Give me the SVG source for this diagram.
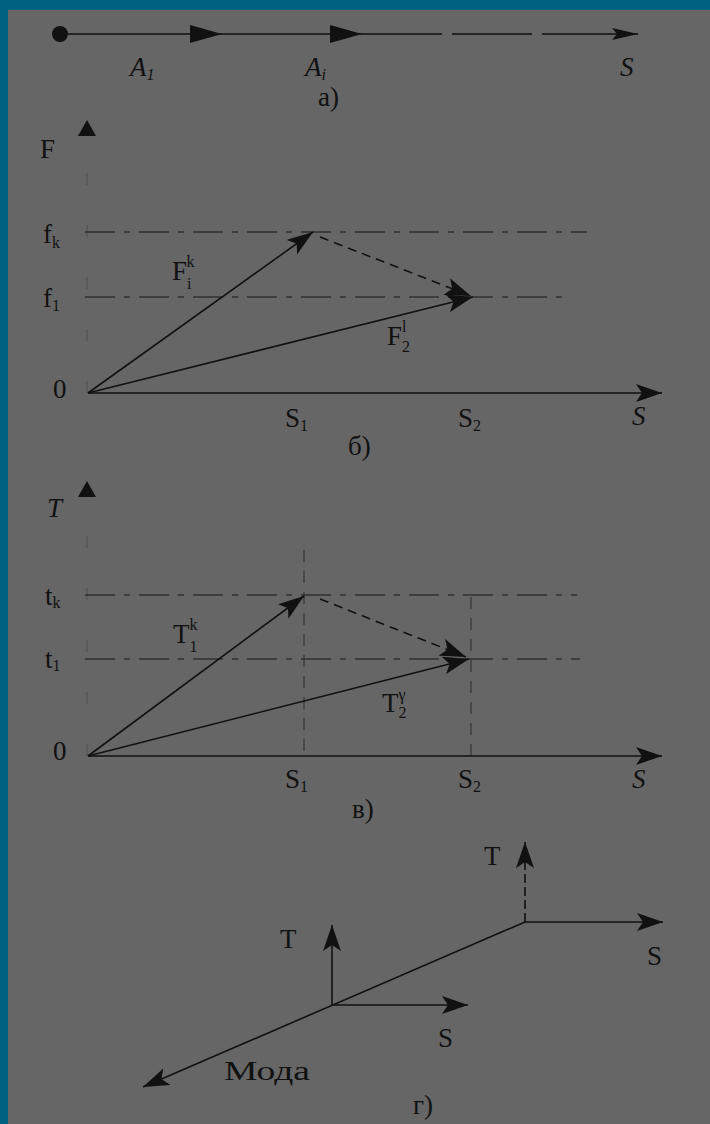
<svg xmlns="http://www.w3.org/2000/svg" width="710" height="1124" viewBox="0 0 710 1124">
<style>
.ln{stroke:#111;stroke-width:1.6;fill:none}
.dsh{stroke:#222;stroke-width:1.5;fill:none;stroke-dasharray:30 9 6 9;opacity:0.8}
.vd{stroke:#2a2a2a;stroke-width:1.3;fill:none;stroke-dasharray:12 9;opacity:0.75}
.dv{stroke:#111;stroke-width:1.6;fill:none;stroke-dasharray:9 6}
.faint{stroke:#333;stroke-width:1.2;fill:none;stroke-dasharray:12 40;opacity:0.35}
.ah{fill:#111}
text{font-family:"Liberation Serif","Times New Roman",serif;fill:#111;font-size:27px}
.it{font-style:italic}
.sub{font-size:16px}
</style>
<defs>
<marker id="arr" viewBox="0 0 26 18" refX="26" refY="9" markerWidth="26" markerHeight="18" markerUnits="userSpaceOnUse" orient="auto">
<path d="M0,0 L26,9 L0,18 L6,9 Z" fill="#111"/>
</marker>
<marker id="arrS" viewBox="0 0 26 12" refX="26" refY="6" markerWidth="26" markerHeight="12" markerUnits="userSpaceOnUse" orient="auto">
<path d="M0,0 L26,6 L0,12 L5,6 Z" fill="#111"/>
</marker>
</defs>
<rect x="0" y="0" width="710" height="1124" fill="#006080"/>
<rect x="8" y="10" width="702" height="1114" fill="#666666"/>

<g id="part-a">
<circle cx="60" cy="34" r="8" fill="#111"/>
<line class="ln" x1="60" y1="34" x2="362" y2="34"/>
<line class="ln" x1="362" y1="34" x2="638" y2="34" stroke-dasharray="80 10" marker-end="url(#arrS)"/>
<path class="ah" d="M190,25 L222,34 L190,43 Z"/>
<path class="ah" d="M330,25 L362,34 L330,43 Z"/>
<text class="it" x="130" y="76" font-size="24">A<tspan class="sub" dy="4">1</tspan></text>
<text class="it" x="305" y="76" font-size="24">A<tspan class="sub" dy="4">i</tspan></text>
<text class="it" x="620" y="76" font-size="24">S</text>
<text x="318" y="106" font-size="22">а)</text>
</g>

<g id="part-b">
<line class="faint" x1="87" y1="393" x2="87" y2="135"/>
<path class="ah" d="M78,136 L87,120 L96,136 Z"/>
<text x="40" y="158">F</text>
<line class="dsh" x1="85" y1="232" x2="587" y2="232"/>
<line class="dsh" x1="85" y1="297" x2="570" y2="297"/>
<text x="43" y="243">f<tspan class="sub" dy="5">k</tspan></text>
<text x="43" y="307">f<tspan class="sub" dy="4">1</tspan></text>
<text x="53" y="398">0</text>
<line class="ln" x1="88" y1="393" x2="662" y2="393" marker-end="url(#arr)"/>
<line class="ln" x1="88" y1="393" x2="313" y2="232" marker-end="url(#arr)"/>
<line class="ln" x1="88" y1="393" x2="473" y2="297" marker-end="url(#arr)"/>
<line class="dv" x1="320" y1="237" x2="471" y2="296" marker-end="url(#arr)"/>
<text x="172" y="280">F<tspan class="sub" dx="0" dy="9">i</tspan><tspan class="sub" dx="-5" dy="-22">k</tspan></text>
<text x="387" y="345">F<tspan class="sub" dy="7">2</tspan><tspan class="sub" dx="-8" dy="-20">l</tspan></text>
<text x="285" y="427">S<tspan class="sub" dy="4">1</tspan></text>
<text x="458" y="427">S<tspan class="sub" dy="4">2</tspan></text>
<text class="it" x="632" y="425">S</text>
<text x="348" y="455" font-size="26">б)</text>
</g>

<g id="part-c">
<line class="faint" x1="87" y1="756" x2="87" y2="497"/>
<path class="ah" d="M78,497 L87,481 L96,497 Z"/>
<text class="it" x="47" y="517">T</text>
<line class="dsh" x1="85" y1="595" x2="577" y2="595"/>
<line class="dsh" x1="85" y1="659" x2="580" y2="659"/>
<line class="vd" x1="304" y1="550" x2="304" y2="756"/>
<line class="vd" x1="471" y1="597" x2="471" y2="756"/>
<text x="45" y="605">t<tspan class="sub" dy="3">k</tspan></text>
<text x="45" y="668">t<tspan class="sub" dy="3">1</tspan></text>
<text x="53" y="760">0</text>
<line class="ln" x1="88" y1="756" x2="662" y2="756" marker-end="url(#arr)"/>
<line class="ln" x1="88" y1="756" x2="304" y2="596" marker-end="url(#arr)"/>
<line class="ln" x1="88" y1="756" x2="469" y2="659" marker-end="url(#arr)"/>
<line class="dv" x1="320" y1="599" x2="466" y2="657" marker-end="url(#arr)"/>
<text x="173" y="643">T<tspan class="sub" dy="9">1</tspan><tspan class="sub" dx="-8" dy="-22">k</tspan></text>
<text x="382" y="712">T<tspan class="sub" dy="6">2</tspan><tspan class="sub" dx="-8" dy="-18">γ</tspan></text>
<text x="285" y="788">S<tspan class="sub" dy="4">1</tspan></text>
<text x="458" y="788">S<tspan class="sub" dy="4">2</tspan></text>
<text class="it" x="632" y="788">S</text>
<text x="352" y="818" font-size="26">в)</text>
</g>

<g id="part-d">
<line class="ln" x1="525" y1="922" x2="525" y2="842" stroke-dasharray="9 4" marker-end="url(#arr)"/>
<line class="ln" x1="525" y1="922" x2="663" y2="922" marker-end="url(#arr)"/>
<line class="ln" x1="332" y1="1005" x2="332" y2="925" marker-end="url(#arr)"/>
<line class="ln" x1="332" y1="1005" x2="468" y2="1005" marker-end="url(#arr)"/>
<line class="ln" x1="525" y1="922" x2="143" y2="1087" marker-end="url(#arr)"/>
<text x="484" y="865">T</text>
<text x="280" y="948">T</text>
<text x="647" y="965">S</text>
<text x="438" y="1047">S</text>
<text x="224" y="1080" textLength="86" lengthAdjust="spacingAndGlyphs">Мода</text>
<text x="413" y="1114" font-size="26">г)</text>
</g>
</svg>
